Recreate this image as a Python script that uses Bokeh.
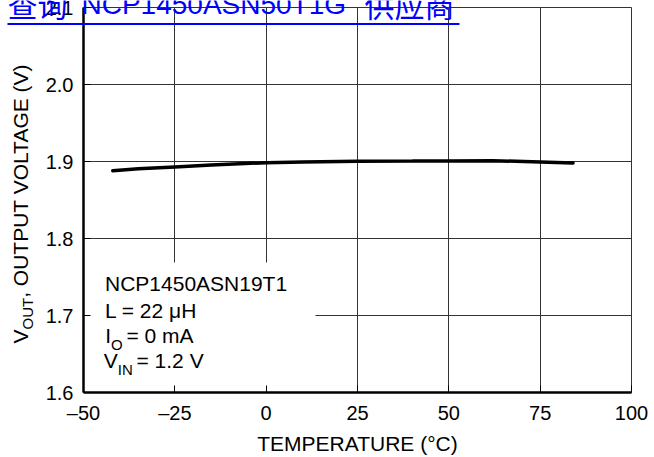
from bokeh.plotting import figure
from bokeh.models import Range1d, FixedTicker, Label, BoxAnnotation, PrintfTickFormatter
from bokeh.layouts import column
from bokeh.embed import file_html
from bokeh.resources import INLINE
import math

# ---- data ----
temperature = [-42, -35, -25, -15, 0, 10, 25, 40, 50, 62, 75, 84]
vout = [1.888, 1.8905, 1.893, 1.8955, 1.8985, 1.8995, 1.9002, 1.9005, 1.9008, 1.901, 1.8995, 1.898]

x_ticks = [-50, -25, 0, 25, 50, 75, 100]
x_tick_labels = ["\u201350", "\u201325", "0", "25", "50", "75", "100"]
y_ticks = [1.6, 1.7, 1.8, 1.9, 2.0, 2.1]

x_title = "TEMPERATURE (\u00b0C)"
y_title_parts = ["V", "OUT", ", OUTPUT VOLTAGE (V)"]
note_line1 = "NCP1450ASN19T1"
note_line2 = "L = 22 \u03bcH"
note_line3 = ["I", "O", "= 0 mA"]
note_line4 = ["V", "IN", "= 1.2 V"]
link_parts = ["\u67e5\u8be2", "NCP1450ASN50T1G", "\u4f9b\u5e94\u5546"]

FONT = "Liberation Sans"
CJK = "Noto Sans CJK SC"
BLUE = "#0000FF"
W, H = 654, 457
BASE = 0.39  # baseline correction factor (fraction of font size)

p = figure(width=W, height=H, title=None,
           x_range=Range1d(-50, 100), y_range=Range1d(1.6, 2.1),
           output_backend="svg", toolbar_location=None,
           min_border_left=83, min_border_right=23,
           min_border_top=7, min_border_bottom=65)
p.frame_align = False

p.background_fill_color = "white"
p.border_fill_color = "white"
p.outline_line_color = "#333333"
p.outline_line_width = 1

p.xaxis.ticker = FixedTicker(ticks=x_ticks)
p.xaxis.major_label_overrides = {t: s for t, s in zip(x_ticks, x_tick_labels)}
p.yaxis.ticker = FixedTicker(ticks=y_ticks)
p.yaxis.formatter = PrintfTickFormatter(format="%.1f")

for ax in (p.xaxis, p.yaxis):
    ax.axis_line_color = "black"
    ax.axis_line_width = 2.5
    ax.major_tick_in = 7
    ax.major_tick_out = 0
    ax.major_tick_line_color = "black"
    ax.major_tick_line_width = 1
    ax.minor_tick_line_color = None
    ax.major_label_text_font = FONT
    ax.major_label_text_font_size = "20px"
    ax.major_label_text_color = "black"

p.xaxis.major_label_standoff = 9
p.yaxis.major_label_standoff = 10
p.xaxis.axis_label = x_title
p.xaxis.axis_label_text_font = FONT
p.xaxis.axis_label_text_font_size = "21px"
p.xaxis.axis_label_text_font_style = "normal"
p.xaxis.axis_label_text_color = "black"
p.xaxis.axis_label_standoff = 5

p.xgrid.grid_line_color = "#333333"
p.ygrid.grid_line_color = "#333333"
p.xgrid.grid_line_width = 1
p.ygrid.grid_line_width = 1

# white box behind the note (covers grid)
note_box = BoxAnnotation(left=0, right=232, bottom=0, top=130,
                         left_units="screen", right_units="screen",
                         bottom_units="screen", top_units="screen",
                         fill_color="white", fill_alpha=1.0, line_color=None,
                         level="underlay")
p.add_layout(note_box)

p.line(temperature, vout, line_width=3.5, line_color="black", line_cap="round")

def lab(fig, text, x, y, size, font=FONT, color="black", angle=0.0, units="screen"):
    fig.add_layout(Label(x=x, y=y, x_units=units, y_units=units, text=text,
                         text_font=font, text_font_size="%gpx" % size, text_color=color,
                         text_align="left", text_baseline="alphabetic", angle=angle))

def hl(fig, text, x, y_base, size, **kw):
    # horizontal label with baseline at y_base (y measured upwards)
    lab(fig, text, x, y_base + BASE * size, size, **kw)

def vl(fig, text, x_base, y, size, **kw):
    # rotated (bottom-to-top) label with baseline at x_base
    lab(fig, text, x_base - BASE * size, y, size, angle=math.pi / 2, **kw)

# note text (screen units relative to the plot frame)
hl(p, note_line1, 21.5, 101, 21)
hl(p, note_line2, 21.5, 74, 21)
hl(p, note_line3[0], 21.7, 48.7, 21)
hl(p, note_line3[1], 27.5, 42, 15)
hl(p, note_line3[2], 43, 48.7, 21)
hl(p, note_line4[0], 20.3, 24.3, 21)
hl(p, note_line4[1], 34.3, 17.3, 15)
hl(p, note_line4[2], 53, 24.3, 21)

# transparent overlay for texts that lie outside the plot frame
ov = figure(width=W, height=H, title=None, x_range=Range1d(0, W), y_range=Range1d(0, H),
            output_backend="svg", toolbar_location=None, min_border=0,
            x_axis_location=None, y_axis_location=None)
ov.frame_align = False
ov.grid.visible = False
ov.outline_line_color = None
ov.background_fill_color = None
ov.border_fill_color = None
ov.margin = (-H, 0, 0, 0)

def py(y_page):
    return H - y_page

# y axis title (rotated)
vl(ov, y_title_parts[0], 28.3, py(343), 21, units="data")
vl(ov, y_title_parts[1], 33.3, py(329), 15, units="data")
vl(ov, y_title_parts[2], 28.3, py(297.3), 21, units="data")

# link overlay at the top
hl(ov, link_parts[0], 7, py(15), 30, font=CJK, color=BLUE, units="data")
hl(ov, link_parts[1], 81, py(15), 28, color=BLUE, units="data")
hl(ov, link_parts[2], 364, py(15), 30, font=CJK, color=BLUE, units="data")
underline = BoxAnnotation(left=7, right=459, bottom=py(24.5), top=py(22.5),
                          fill_color=BLUE, fill_alpha=1.0, line_color=None)
ov.add_layout(underline)

layout = column(p, ov)
open("out.html", "w").write(file_html(layout, INLINE))
